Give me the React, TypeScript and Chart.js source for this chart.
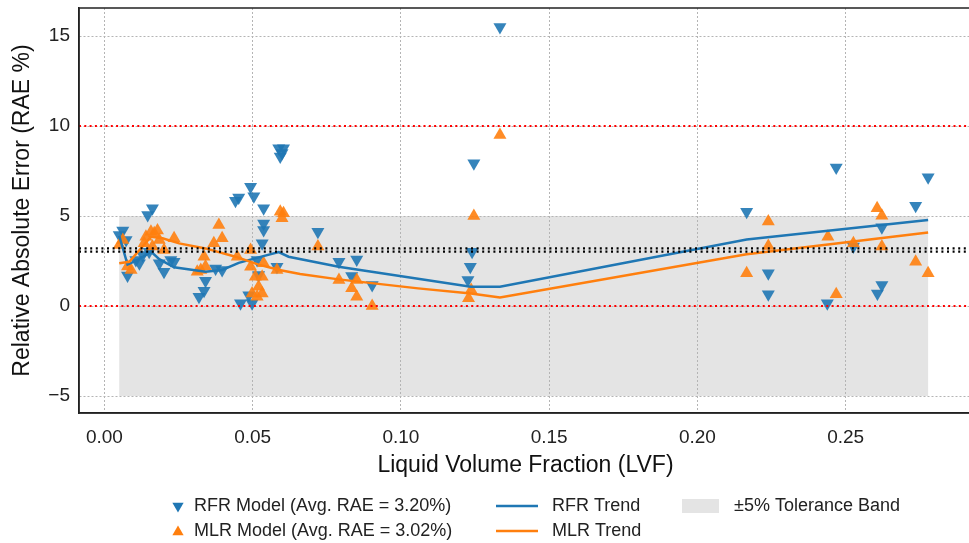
import React, { useEffect, useRef } from 'react';
import { Chart, registerables } from 'chart.js';

Chart.register(...registerables);

// ---------- data ----------
const xTicks = [0, 0.05, 0.1, 0.15, 0.2, 0.25];
const xTickLabels = ['0.00', '0.05', '0.10', '0.15', '0.20', '0.25'];
const yTicks = [-5, 0, 5, 10, 15];
const yTickLabels = ['\u22125', '0', '5', '10', '15'];

const rfrX = [
  0.0062, 0.0073, 0.005, 0.0078, 0.0106, 0.0118, 0.0129, 0.0151, 0.0146, 0.0162,
  0.0185, 0.0201, 0.0224, 0.0235, 0.0319, 0.0336, 0.0341, 0.0375, 0.0397, 0.0442,
  0.0453, 0.0459, 0.0487, 0.0493, 0.0504, 0.0498, 0.0515, 0.052, 0.0537, 0.0537,
  0.0537, 0.0532, 0.0582, 0.0588, 0.0604, 0.0593, 0.0599, 0.072, 0.0791, 0.0851,
  0.0834, 0.0903, 0.1226, 0.1234, 0.124, 0.1246, 0.1334, 0.2166, 0.2239, 0.2239,
  0.2438, 0.2468, 0.2526, 0.2607, 0.2622, 0.2622, 0.2736, 0.2778,
];
const rfrY = [
  4.2, 3.67, 3.94, 1.7, 2.56, 2.37, 2.83, 3.02, 5.06, 5.43,
  2.37, 1.9, 2.56, 2.46, 0.52, 0.85, 1.4, 2.09, 2.0, 5.85,
  6.03, 0.15, 0.6, 6.63, 6.1, 0.15, 2.56, 1.72, 5.43, 4.59,
  4.22, 3.48, 2.18, 8.76, 8.76, 8.3, 8.5, 4.13, 2.46, 2.59,
  1.67, 1.17, 1.44, 2.18, 3.02, 7.93, 15.5, 5.24, 1.82, 0.65,
  0.15, 7.7, 3.3, 0.7, 1.17, 4.37, 5.57, 7.15,
];

const mlrX = [
  0.005, 0.0062, 0.0078, 0.009, 0.0134, 0.014, 0.0157, 0.0168, 0.0179, 0.0185,
  0.0162, 0.0201, 0.0235, 0.0313, 0.0325, 0.0336, 0.0341, 0.0369, 0.0386, 0.0397,
  0.0448, 0.0493, 0.0493, 0.0498, 0.0509, 0.0515, 0.052, 0.0532, 0.0532, 0.0537,
  0.0582, 0.0593, 0.0604, 0.0599, 0.072, 0.0791, 0.0834, 0.0851, 0.0851, 0.0903,
  0.1228, 0.1237, 0.1246, 0.1334, 0.2166, 0.2239, 0.2239, 0.244, 0.2468, 0.2526,
  0.2606, 0.2622, 0.2622, 0.2736, 0.2778,
];
const mlrY = [
  3.39, 3.67, 2.2, 2.0, 3.48, 3.85, 4.13, 4.04, 4.2, 3.67,
  3.3, 3.11, 3.76, 1.9, 2.0, 2.74, 2.2, 3.48, 4.5, 3.76,
  2.74, 3.11, 2.18, 0.7, 1.63, 0.52, 1.07, 0.7, 1.63, 2.37,
  2.0, 5.24, 5.15, 4.87, 3.3, 1.44, 0.98, 1.44, 0.52, 0.0,
  0.43, 0.89, 5.0, 9.5, 1.82, 4.69, 3.33, 3.85, 0.65, 3.48,
  5.43, 5.02, 3.3, 2.46, 1.82,
];

const rfrTrendX = [0.005, 0.0078, 0.0118, 0.0157, 0.0185, 0.0235, 0.0341, 0.0397, 0.0453, 0.052, 0.0588, 0.0621, 0.079, 0.1236, 0.1334, 0.2166, 0.2778];
const rfrTrendY = [3.9, 2.3, 2.6, 3.02, 2.6, 2.15, 1.9, 2.0, 2.4, 2.7, 3.0, 2.74, 2.18, 1.07, 1.07, 3.7, 4.78];
const mlrTrendX = [0.005, 0.0084, 0.0157, 0.0196, 0.0252, 0.0341, 0.0442, 0.052, 0.059, 0.066, 0.079, 0.1058, 0.1236, 0.1334, 0.2166, 0.2778];
const mlrTrendY = [2.37, 2.46, 3.85, 3.76, 3.48, 3.2, 2.74, 2.3, 2.0, 1.78, 1.48, 0.98, 0.7, 0.48, 2.87, 4.09];

const bandX = [0.005, 0.2778];
const bandY = [-5, 5];
const redLines = [0, 10];
const avgLines = [3.2, 3.02];

const legendLabels = [
  'RFR Model (Avg. RAE = 3.20%)',
  'MLR Model (Avg. RAE = 3.02%)',
  'RFR Trend',
  'MLR Trend',
  '\u00b15% Tolerance Band',
];

const xMin = -0.00857;
const xMax = 0.2926;
const yMin = -5.944;
const yMax = 16.556;

const BLUE = '#1f77b4';
const ORANGE = '#ff7f0e';
const FONT = "'Liberation Sans', Arial, sans-serif";

function toPts(xs: number[], ys: number[]) {
  return xs.map((x, i) => ({ x, y: ys[i] }));
}

function tri(ctx: CanvasRenderingContext2D, cx: number, cy: number, r: number, down: boolean, color: string) {
  const s = down ? 1 : -1;
  ctx.save();
  ctx.fillStyle = color;
  ctx.beginPath();
  ctx.moveTo(cx, cy + s * r);
  ctx.lineTo(cx - r * 0.866, cy - s * r * 0.5);
  ctx.lineTo(cx + r * 0.866, cy - s * r * 0.5);
  ctx.closePath();
  ctx.fill();
  ctx.restore();
}

const overlay = {
  id: 'overlay',
  beforeDraw(chart: any) {
    const { ctx, scales } = chart;
    const x = scales.x, y = scales.y;
    const x0 = x.getPixelForValue(bandX[0]);
    const x1 = x.getPixelForValue(bandX[1]);
    const y0 = y.getPixelForValue(bandY[1]);
    const y1 = y.getPixelForValue(bandY[0]);
    ctx.save();
    ctx.fillStyle = '#e4e4e4';
    ctx.fillRect(x0, y0, x1 - x0, y1 - y0);
    ctx.restore();
  },
  afterDatasetsDraw(chart: any) {
    const { ctx, scales, chartArea } = chart;
    const y = scales.y;
    ctx.save();
    ctx.beginPath();
    ctx.rect(chartArea.left, chartArea.top, chartArea.right - chartArea.left, chartArea.bottom - chartArea.top);
    ctx.clip();
    ctx.strokeStyle = 'red';
    ctx.lineWidth = 2;
    ctx.setLineDash([2, 3.3]);
    redLines.forEach((v) => {
      const py = y.getPixelForValue(v);
      ctx.beginPath();
      ctx.moveTo(chartArea.left, py);
      ctx.lineTo(chartArea.right, py);
      ctx.stroke();
    });
    ctx.strokeStyle = '#000';
    ctx.lineWidth = 2.2;
    ctx.setLineDash([2, 3.6]);
    avgLines.forEach((v) => {
      const py = y.getPixelForValue(v);
      ctx.beginPath();
      ctx.moveTo(chartArea.left, py);
      ctx.lineTo(chartArea.right, py);
      ctx.stroke();
    });
    ctx.restore();
    // frame
    ctx.save();
    ctx.strokeStyle = '#222';
    ctx.lineWidth = 1.5;
    ctx.strokeRect(chartArea.left, chartArea.top, chartArea.right - chartArea.left, chartArea.bottom - chartArea.top);
    ctx.restore();
  },
  afterDraw(chart: any) {
    const { ctx } = chart;
    const rows = [506, 531];
    ctx.save();
    ctx.font = `18px ${FONT}`;
    ctx.fillStyle = '#222';
    ctx.textBaseline = 'middle';
    ctx.textAlign = 'left';
    tri(ctx, 178, rows[0], 6.5, true, BLUE);
    tri(ctx, 178, rows[1] + 1, 6.5, false, ORANGE);
    ctx.fillText(legendLabels[0], 194, rows[0]);
    ctx.fillText(legendLabels[1], 194, rows[1]);
    ctx.lineWidth = 2.5;
    ctx.strokeStyle = BLUE;
    ctx.beginPath(); ctx.moveTo(496, rows[0]); ctx.lineTo(538, rows[0]); ctx.stroke();
    ctx.strokeStyle = ORANGE;
    ctx.beginPath(); ctx.moveTo(496, rows[1]); ctx.lineTo(538, rows[1]); ctx.stroke();
    ctx.fillText(legendLabels[2], 552, rows[0]);
    ctx.fillText(legendLabels[3], 552, rows[1]);
    ctx.fillStyle = '#e4e4e4';
    ctx.fillRect(682, rows[0] - 7, 37, 14);
    ctx.fillStyle = '#222';
    ctx.fillText(legendLabels[4], 734, rows[0]);
    ctx.restore();
  },
};

export default function App() {
  const ref = useRef<HTMLCanvasElement | null>(null);
  useEffect(() => {
    if (!ref.current) return;
    Chart.defaults.font.family = FONT;
    const chart = new Chart(ref.current, {
      type: 'scatter',
      data: {
        datasets: [
          {
            label: legendLabels[3],
            data: toPts(mlrTrendX, mlrTrendY),
            showLine: true,
            borderColor: ORANGE,
            borderWidth: 2.5,
            pointRadius: 0,
            fill: false,
          },
          {
            label: legendLabels[2],
            data: toPts(rfrTrendX, rfrTrendY),
            showLine: true,
            borderColor: BLUE,
            borderWidth: 2.5,
            pointRadius: 0,
            fill: false,
          },
          {
            label: legendLabels[1],
            data: toPts(mlrX, mlrY),
            pointStyle: 'triangle',
            rotation: 0,
            pointRadius: 7.5,
            backgroundColor: 'rgba(255,127,14,0.9)',
            borderColor: 'rgba(255,127,14,0.9)',
            borderWidth: 0,
          },
          {
            label: legendLabels[0],
            data: toPts(rfrX, rfrY),
            pointStyle: 'triangle',
            rotation: 180,
            pointRadius: 7.5,
            backgroundColor: 'rgba(31,119,180,0.9)',
            borderColor: 'rgba(31,119,180,0.9)',
            borderWidth: 0,
          },
        ],
      },
      options: {
        responsive: false,
        animation: false,
        events: [],
        layout: { padding: { left: 0, top: 8, right: 8, bottom: 60 } },
        plugins: { legend: { display: false }, tooltip: { enabled: false } },
        scales: {
          x: {
            type: 'linear',
            min: xMin,
            max: xMax,
            afterBuildTicks: (s: any) => {
              s.ticks = xTicks.map((v) => ({ value: v }));
            },
            afterFit: (s: any) => {
              s.height = 70;
              s.paddingLeft = 0;
              s.paddingRight = 0;
            },
            ticks: {
              callback: (v: any) => {
                const i = xTicks.findIndex((t) => Math.abs(t - v) < 1e-9);
                return i >= 0 ? xTickLabels[i] : '';
              },
              font: { size: 19, family: FONT },
              color: '#222',
              padding: 13,
              maxRotation: 0,
              autoSkip: false,
            },
            grid: { color: '#b4b4b4', lineWidth: 1, drawTicks: false },
            border: { color: '#222', width: 1.5, dash: [2, 2] },
            title: {
              display: true,
              text: 'Liquid Volume Fraction (LVF)',
              font: { size: 23, family: FONT },
              color: '#111',
              padding: { top: 0, bottom: 4 },
            },
          },
          y: {
            type: 'linear',
            min: yMin,
            max: yMax,
            afterBuildTicks: (s: any) => {
              s.ticks = yTicks.map((v) => ({ value: v }));
            },
            afterFit: (s: any) => {
              s.width = 79;
              s.paddingTop = 0;
              s.paddingBottom = 0;
            },
            ticks: {
              callback: (v: any) => {
                const i = yTicks.findIndex((t) => Math.abs(t - v) < 1e-9);
                return i >= 0 ? yTickLabels[i] : '';
              },
              font: { size: 19, family: FONT },
              color: '#222',
              padding: 9,
              autoSkip: false,
            },
            grid: { color: '#b4b4b4', lineWidth: 1, drawTicks: false },
            border: { color: '#222', width: 1.5, dash: [2, 2] },
            title: {
              display: true,
              text: 'Relative Absolute Error (RAE %)',
              font: { size: 23, family: FONT },
              color: '#111',
              padding: { top: 9, bottom: 0 },
            },
          },
        },
      },
      plugins: [overlay],
    } as any);
    return () => chart.destroy();
  }, []);

  return (
    <div style={{ position: 'fixed', left: 0, top: 0, width: 969, height: 543, overflow: 'hidden', background: '#fff' }}>
      <canvas ref={ref} width={980} height={543} style={{ display: 'block', width: 980, height: 543 }} />
    </div>
  );
}
